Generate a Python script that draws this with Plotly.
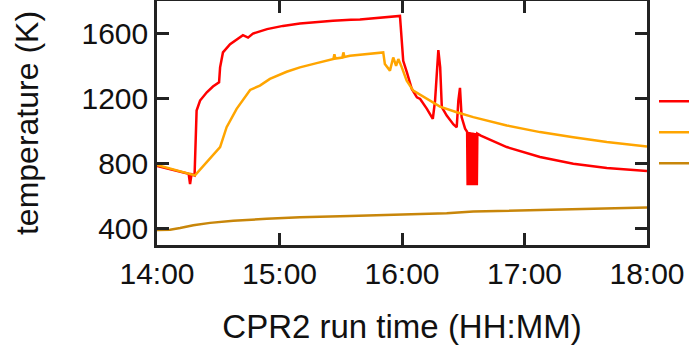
import plotly.graph_objects as go

# Run time in minutes after 14:00, temperatures in K
red_t = [0, 15.5, 16.2, 16.9, 18.4, 19.4, 21.1, 24.4, 27.4, 30.4, 30.9, 32.3, 35.8,
         42.1, 44.6, 47.0, 53.9, 61.7, 70.0, 78.4, 86.2, 95.0, 99.4, 119.0, 120.6,
         122.4, 124.8, 127.3, 128.9, 132.2, 135.1, 136.2, 137.8, 138.7, 139.5, 141.9,
         145.2, 146.8, 147.6, 148.4, 149.2, 150.9,
         151.9, 152.15, 152.4, 152.65, 152.9, 153.15, 153.4, 153.65, 153.9, 154.15,
         154.4, 154.65, 154.9, 155.15, 155.4, 155.65, 155.9, 156.15, 156.4, 156.65,
         156.9,
         158.6, 171.3, 187.6, 203.9, 220.3, 240]
red_k = [786, 738, 674, 735, 728, 1127, 1188, 1239, 1274, 1300, 1392, 1484, 1535,
         1590, 1575, 1600, 1627, 1647, 1661, 1671, 1678, 1684, 1686, 1708, 1432,
         1361, 1259, 1208, 1198, 1137, 1076, 1188, 1498, 1392, 1147, 1096,
         1041, 1024, 1188, 1266, 1086, 1015,
         996, 668, 995, 668, 994, 668, 993, 668, 992, 668,
         991, 668, 990, 668, 989, 668, 988, 668, 986, 668,
         984,
         972, 902, 841, 800, 773, 755]

orange_t = [0, 18.6, 30.9, 34.1, 39.0, 43.9, 45.6, 50.4, 55.3, 63.5, 70.0, 78.2,
            86.4, 86.9, 87.4, 90.8, 91.3, 91.8, 94.5, 110.8, 111.6, 114.1, 115.7,
            117.1, 118.2, 119.9, 122.3, 125.5, 132.1, 138.6, 146.8, 154.9, 171.3,
            187.6, 203.9, 220.3, 240]
orange_k = [792, 728, 902, 1024, 1137, 1229, 1253, 1280, 1321, 1365, 1392, 1418,
            1443, 1472, 1446, 1452, 1484, 1456, 1463, 1484, 1413, 1372, 1453,
            1402, 1443, 1392, 1310, 1249, 1198, 1151, 1116, 1086, 1035,
            994, 963, 933, 906]

dark_t = [0, 6.4, 11.3, 17.8, 26.0, 37.4, 53.7, 70.0, 94.5, 141.9, 154.9, 187.6, 240]
dark_k = [392, 394, 404, 421, 436, 449, 461, 470, 478, 495, 506, 517, 531]

tick_minutes = [0, 60, 120, 180, 240]
tick_labels = ["14:00", "15:00", "16:00", "17:00", "18:00"]
temp_ticks = [400, 800, 1200, 1600]

font = "Arial, Liberation Sans, sans-serif"
ink = "#222222"

fig = go.Figure()
# Legend keys are shown as line samples only
fig.add_trace(go.Scatter(x=red_t, y=red_k, mode="lines", name="",
                         line=dict(color="#ff0000", width=2.5)))
fig.add_trace(go.Scatter(x=orange_t, y=orange_k, mode="lines", name="",
                         line=dict(color="#ffa500", width=2.5)))
fig.add_trace(go.Scatter(x=dark_t, y=dark_k, mode="lines", name="",
                         line=dict(color="#c8860a", width=2.5)))

axis_common = dict(showline=True, linewidth=2.5, linecolor=ink, mirror="ticks",
                   ticks="inside", ticklen=12, tickwidth=2.5, tickcolor=ink,
                   showgrid=False, zeroline=False, automargin=False,
                   tickfont=dict(family=font, size=30, color="#111"))

fig.update_xaxes(range=[0, 240], tickvals=tick_minutes, ticktext=tick_labels,
                 title=dict(text="CPR2 run time (HH:MM)", standoff=27,
                            font=dict(family=font, size=33, color="#111")),
                 **axis_common)
fig.update_yaxes(range=[300, 1800], tickvals=temp_ticks,
                 title=dict(text="temperature (K)", standoff=34,
                            font=dict(family=font, size=32, color="#111")),
                 **axis_common)

fig.update_layout(
    width=690, height=348,
    margin=dict(l=157, r=43, t=1, b=103, autoexpand=False),
    plot_bgcolor="white", paper_bgcolor="white",
    showlegend=True,
    legend=dict(x=1.0143, xanchor="left", y=0.673, yanchor="top",
                bgcolor="rgba(0,0,0,0)", font=dict(family=font, size=21.5),
                tracegroupgap=0),
)

fig.write_html("out.html")
